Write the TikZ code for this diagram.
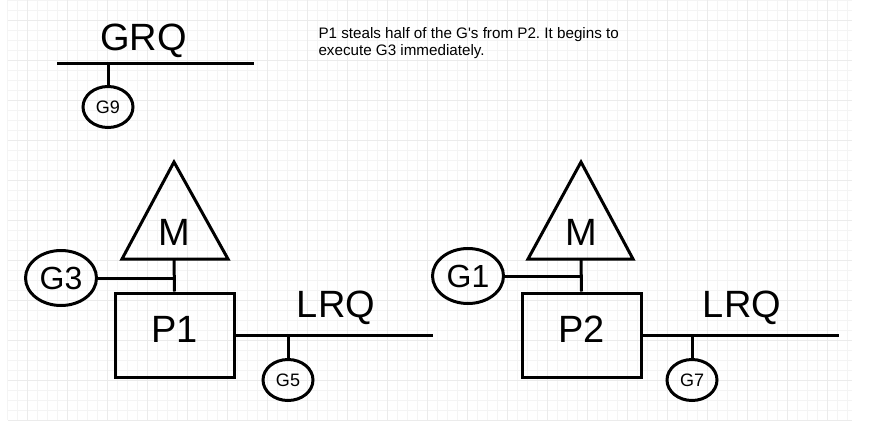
\documentclass[tikz,border=0pt]{standalone}
\usepackage{fontspec}
\setmainfont{Liberation Sans}
\usetikzlibrary{shapes.geometric}

\definecolor{gridminor}{gray}{0.955}
\definecolor{gridmajor}{gray}{0.92}

\begin{document}
\frenchspacing
\begin{tikzpicture}[
        x=1pt, y=-1pt,
        line width=3pt,
        every node/.style={
            inner sep=0pt,
            line width=3pt
        },
        gsmall/.style={
            draw,
            ellipse,
            minimum width=50pt,
            minimum height=41pt,
            font=\fontsize{18}{18}\selectfont
        },
        glarge/.style={
            draw,
            ellipse,
            minimum width=71pt,
            minimum height=55pt,
            font=\fontsize{32}{32}\selectfont
        },
        pbox/.style={
            draw,
            minimum width=119pt,
            minimum height=84pt,
            text depth=12pt,
            font=\fontsize{38}{38}\selectfont
        },
        biglabel/.style={
            anchor=base,
            font=\fontsize{38}{38}\selectfont
        }
    ]

        % page and grid
        \useasboundingbox (0,0) rectangle (872,429);
        \fill[white] (0,0) rectangle (872,429);
        \foreach \k in {0,...,84}
            \draw[line width=0.8pt, gridminor] (7+10*\k,0) -- (7+10*\k,420);
        \foreach \k in {0,...,42}
            \draw[line width=0.8pt, gridminor] (8,10*\k) -- (852,10*\k);
        \foreach \k in {0,...,20}
            \draw[line width=1pt, gridmajor] (27+40*\k,0) -- (27+40*\k,420);
        \foreach \k in {0,...,10}
            \draw[line width=1pt, gridmajor] (8,20+40*\k) -- (852,20+40*\k);

        % global run queue
        \node[biglabel] (grq) at (143.5,50) {GRQ};
        \coordinate (grqleft) at (57,63);
        \coordinate (grqright) at (254,63);
        \node[gsmall] (g9) at (108,107) {G9};

        \draw (grqleft) -- (grqright);
        \draw (g9 |- grqleft) -- (g9);

        \node[anchor=north west, align=left,
              font=\fontsize{15.2}{17}\selectfont] (note) at (317,26)
        {P1 steals half of the G\textquotesingle s from P2. It begins to\\execute G3 immediately.};

        % P1
        \draw (174,162) -- (228,259) -- (122,259) -- cycle;
        \coordinate (m1base) at (174,259);
        \node[biglabel] (m1) at (174,245) {M};
        \node[pbox] (p1) at (174.5,335) {P1};
        \node[glarge] (g3) at (61,278) {G3};
        \node[biglabel] (lrq1) at (336,317) {LRQ};
        \coordinate (lrq1end) at (433,335);
        \node[gsmall] (g5) at (288,380) {G5};

        \draw (m1base) -- (p1.north);
        \draw (g3) -- (g3 -| m1base);
        \draw (p1.east) -- (lrq1end);
        \draw (g5 |- lrq1end) -- (g5);

        % P2
        \draw (581,162) -- (633,259) -- (528,259) -- cycle;
        \coordinate (m2base) at (581,259);
        \node[biglabel] (m2) at (581,245) {M};
        \node[pbox] (p2) at (581.5,335) {P2};
        \node[glarge] (g1) at (468,276) {G1};
        \node[biglabel] (lrq2) at (742,317) {LRQ};
        \coordinate (lrq2end) at (839,335);
        \node[gsmall] (g7) at (692,380) {G7};

        \draw (m2base) -- (p2.north);
        \draw (g1) -- (g1 -| m2base);
        \draw (p2.east) -- (lrq2end);
        \draw (g7 |- lrq2end) -- (g7);

    \end{tikzpicture}
\end{document}
